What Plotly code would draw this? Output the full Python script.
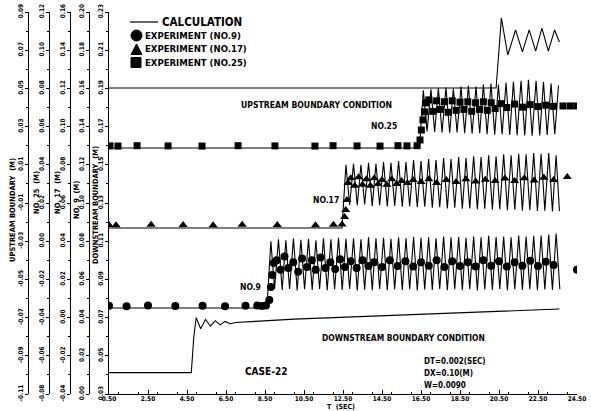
import plotly.graph_objects as go

# ---------------- data (time in s, water level in m) ----------------
# Calculation, downstream boundary condition
down_calc_t = [0.5, 4.72, 4.85, 4.97, 5.2, 5.45, 5.7, 5.95, 6.2, 6.45, 6.7, 7.0, 8.0, 10.0, 12.0, 14.0, 16.0, 18.0, 20.0, 22.0, 23.6]
down_calc_v = [0.0412, 0.0412, 0.0600, 0.0700, 0.0642, 0.0690, 0.0655, 0.0684, 0.0662, 0.0680, 0.0668, 0.0674, 0.0680, 0.0692, 0.0700, 0.0708, 0.0716, 0.0724, 0.0731, 0.0738, 0.0745]

# Calculation, upstream boundary condition
up_calc_t = [0.5, 20.35, 20.5, 20.62, 20.95, 21.35, 21.7, 22.05, 22.38, 22.7, 23.03, 23.35, 23.6]
up_calc_v = [0.0502, 0.0502, 0.0701, 0.0869, 0.0675, 0.0806, 0.0691, 0.0806, 0.0695, 0.0816, 0.0695, 0.0806, 0.0743]

# Calculation NO.9 : level before the bore, then crests and troughs
no9_calc_base_t = [0.5, 8.6]
no9_calc_base_v = [0.0450, 0.0450]
no9_calc_peak_t = [8.80, 9.19, 9.57, 9.96, 10.34, 10.73, 11.11, 11.50, 11.88, 12.27, 12.65, 13.04, 13.42,
                   13.81, 14.19, 14.58, 14.96, 15.35, 15.73, 16.12, 16.50, 16.89, 17.27, 17.66, 18.04, 18.43,
                   18.81, 19.20, 19.58, 19.97, 20.35, 20.74, 21.12, 21.51, 21.89, 22.28, 22.66, 23.05, 23.43]
no9_calc_peak_v = [0.0800, 0.0810, 0.0805, 0.0815, 0.0808, 0.0812, 0.0805, 0.0815, 0.0810, 0.0818, 0.0812, 0.0815, 0.0810,
                   0.0820, 0.0815, 0.0818, 0.0812, 0.0820, 0.0815, 0.0822, 0.0818, 0.0820, 0.0815, 0.0825, 0.0820, 0.0822,
                   0.0818, 0.0825, 0.0820, 0.0828, 0.0822, 0.0825, 0.0820, 0.0830, 0.0825, 0.0828, 0.0830, 0.0835, 0.0840]
no9_calc_trough_t = [8.99, 9.38, 9.76, 10.15, 10.53, 10.92, 11.30, 11.69, 12.07, 12.46, 12.84, 13.23, 13.61,
                     14.00, 14.38, 14.77, 15.15, 15.54, 15.92, 16.31, 16.69, 17.08, 17.46, 17.85, 18.23, 18.62,
                     19.00, 19.39, 19.77, 20.16, 20.54, 20.93, 21.31, 21.70, 22.08, 22.47, 22.85, 23.24, 23.62]
no9_calc_trough_v = [0.0550, 0.0545, 0.0550, 0.0542, 0.0548, 0.0545, 0.0550, 0.0543, 0.0548, 0.0545, 0.0550, 0.0542, 0.0546,
                     0.0544, 0.0550, 0.0543, 0.0548, 0.0545, 0.0549, 0.0542, 0.0547, 0.0545, 0.0550, 0.0543, 0.0548, 0.0544,
                     0.0549, 0.0542, 0.0547, 0.0545, 0.0550, 0.0543, 0.0548, 0.0545, 0.0549, 0.0543, 0.0547, 0.0545, 0.0550]

# Calculation NO.17
no17_calc_base_t = [0.5, 12.45]
no17_calc_base_v = [0.0469, 0.0469]
no17_calc_peak_t = [12.65, 13.04, 13.42, 13.81, 14.19, 14.58, 14.96, 15.35, 15.73, 16.12, 16.50, 16.89, 17.27, 17.66,
                    18.04, 18.43, 18.81, 19.20, 19.58, 19.97, 20.35, 20.74, 21.12, 21.51, 21.89, 22.28, 22.66, 23.05, 23.43]
no17_calc_peak_v = [0.0800, 0.0805, 0.0800, 0.0810, 0.0805, 0.0815, 0.0810, 0.0820, 0.0815, 0.0825, 0.0820, 0.0830, 0.0825, 0.0835,
                    0.0830, 0.0840, 0.0835, 0.0845, 0.0840, 0.0850, 0.0845, 0.0855, 0.0850, 0.0858, 0.0855, 0.0862, 0.0858, 0.0862, 0.0850]
no17_calc_trough_t = [12.84, 13.23, 13.61, 14.00, 14.38, 14.77, 15.15, 15.54, 15.92, 16.31, 16.69, 17.08, 17.46, 17.85,
                      18.23, 18.62, 19.00, 19.39, 19.77, 20.16, 20.54, 20.93, 21.31, 21.70, 22.08, 22.47, 22.85, 23.24, 23.60]
no17_calc_trough_v = [0.0590, 0.0588, 0.0592, 0.0585, 0.0588, 0.0582, 0.0585, 0.0580, 0.0582, 0.0578, 0.0580, 0.0575, 0.0578, 0.0572,
                      0.0575, 0.0570, 0.0572, 0.0568, 0.0570, 0.0565, 0.0568, 0.0562, 0.0565, 0.0560, 0.0562, 0.0558, 0.0560, 0.0556, 0.0558]

# Calculation NO.25
no25_calc_base_t = [0.5, 16.42]
no25_calc_base_v = [0.0488, 0.0488]
no25_calc_peak_t = [16.62, 17.01, 17.39, 17.78, 18.16, 18.55, 18.93, 19.32, 19.70, 20.09, 20.47, 20.86, 21.24, 21.63,
                    22.01, 22.40, 22.78, 23.17, 23.55]
no25_calc_peak_v = [0.0790, 0.0795, 0.0800, 0.0805, 0.0800, 0.0810, 0.0815, 0.0810, 0.0820, 0.0825, 0.0820, 0.0830, 0.0835, 0.0840,
                    0.0845, 0.0840, 0.0835, 0.0825, 0.0815]
no25_calc_trough_t = [16.81, 17.20, 17.58, 17.97, 18.35, 18.74, 19.12, 19.51, 19.89, 20.28, 20.66, 21.05, 21.43, 21.82,
                      22.20, 22.59, 22.97, 23.36]
no25_calc_trough_v = [0.0575, 0.0572, 0.0570, 0.0568, 0.0570, 0.0565, 0.0563, 0.0565, 0.0560, 0.0558, 0.0560, 0.0556, 0.0555, 0.0553,
                      0.0552, 0.0554, 0.0556, 0.0560]

# Experiments
no9_exp_t = [0.5, 1.4, 2.5, 3.9, 5.3, 6.45, 7.5, 8.1, 8.35, 8.55,
             8.72, 8.8, 8.87, 8.95,
             9.1, 9.3, 9.5, 9.7, 9.95, 10.2, 10.4, 10.65, 10.9, 11.1, 11.35, 11.6, 11.85, 12.1, 12.35, 12.6,
             12.9, 13.2, 13.5, 13.8, 14.1, 14.5, 14.9, 15.3, 15.7, 16.1, 16.5, 16.9, 17.3, 17.7, 18.1, 18.5,
             18.9, 19.3, 19.7, 20.1, 20.5, 20.9, 21.3, 21.7, 22.1, 22.5, 22.9, 23.3, 24.5]
no9_exp_v = [0.0462, 0.0460, 0.0463, 0.0461, 0.0462, 0.0460, 0.0462, 0.0463, 0.0461, 0.0464,
             0.0492, 0.0560, 0.0623, 0.0686,
             0.0700, 0.0650, 0.0720, 0.0660, 0.0690, 0.0640, 0.0710, 0.0665, 0.0700, 0.0650, 0.0715, 0.0660, 0.0690, 0.0655, 0.0705, 0.0665,
             0.0695, 0.0660, 0.0700, 0.0670, 0.0690, 0.0665, 0.0700, 0.0670, 0.0695, 0.0668, 0.0690, 0.0672, 0.0700, 0.0665, 0.0695, 0.0670,
             0.0690, 0.0668, 0.0700, 0.0672, 0.0695, 0.0668, 0.0690, 0.0672, 0.0698, 0.0670, 0.0692, 0.0675, 0.0650]

no17_exp_t = [0.5, 0.86, 2.66, 4.3, 5.84, 7.33, 9.13, 11.09, 12.01, 12.45,
              12.58, 12.64, 12.7, 12.76,
              12.9, 13.1, 13.3, 13.5, 13.7, 13.9, 14.1, 14.3, 14.5, 14.75, 15.0, 15.25, 15.5, 15.8, 16.1,
              16.5, 16.9, 17.3, 17.8, 18.3, 18.8, 19.3, 19.8, 20.3, 20.8, 21.3, 21.8, 22.3, 22.8, 23.3, 24.0]
no17_exp_v = [0.0485, 0.0484, 0.0486, 0.0485, 0.0484, 0.0486, 0.0485, 0.0484, 0.0486, 0.0487,
              0.0527, 0.0563, 0.0616, 0.0705,
              0.0730, 0.0690, 0.0735, 0.0695, 0.0725, 0.0690, 0.0730, 0.0700, 0.0720, 0.0695, 0.0725, 0.0700, 0.0715, 0.0705, 0.0720,
              0.0710, 0.0725, 0.0705, 0.0720, 0.0710, 0.0725, 0.0712, 0.0722, 0.0715, 0.0728, 0.0715, 0.0730, 0.0718, 0.0732, 0.0720, 0.0736]

no25_exp_t = [0.55, 0.96, 1.94, 3.53, 5.27, 7.12, 9.01, 11.06, 11.99, 13.22, 14.4, 15.32, 15.78, 16.3,
              16.45, 16.52, 16.6, 16.68, 16.78,
              16.9, 17.1, 17.3, 17.5, 17.7, 17.9, 18.1, 18.3, 18.5, 18.7, 18.9, 19.1, 19.3, 19.5, 19.7, 19.9,
              20.1, 20.3, 20.6, 20.9, 21.3, 21.7, 22.1, 22.5, 22.9, 23.3, 23.78, 24.15, 24.5]
no25_exp_v = [0.0499, 0.0498, 0.0500, 0.0499, 0.0498, 0.0500, 0.0499, 0.0498, 0.0500, 0.0499, 0.0498, 0.0500, 0.0499, 0.0500,
              0.0530, 0.0582, 0.0635, 0.0677, 0.0724,
              0.0740, 0.0680, 0.0735, 0.0690, 0.0730, 0.0675, 0.0735, 0.0685, 0.0728, 0.0690, 0.0730, 0.0680, 0.0725, 0.0690, 0.0730, 0.0685,
              0.0725, 0.0695, 0.0720, 0.0700, 0.0718, 0.0702, 0.0715, 0.0705, 0.0712, 0.0706, 0.0708, 0.0708, 0.0708]

# Axes: time ticks and the five level scales (bottom value of each 0.20 m scale)
x_tick_vals = [0.5, 2.5, 4.5, 6.5, 8.5, 10.5, 12.5, 14.5, 16.5, 18.5, 20.5, 22.5, 24.5]
scale_bottom_upstream = -0.11
scale_bottom_no25 = -0.08
scale_bottom_no17 = -0.04
scale_bottom_no9 = 0.00
scale_bottom_downstream = 0.03
scale_span = 0.20
scale_step = 0.02

# ---------------- layout helpers ----------------
W, H = 591, 411
M_L, M_R, M_T, M_B = 0, 14, 12, 17
PW = W - M_L - M_R
PH = H - M_T - M_B
FONT = "DejaVu Sans Condensed, DejaVu Sans, sans-serif"


def px_x(px):
    return px / PW


def px_y(py):
    return (H - M_B - py) / PH


def merge(*pairs):
    pts = []
    for ts, vs in pairs:
        pts.extend(zip(ts, vs))
    pts.sort(key=lambda p: p[0])
    return [p[0] for p in pts], [p[1] for p in pts]


def ticks_for(bottom):
    vals = [round(bottom + scale_step * i, 2) for i in range(11)]
    return vals, [f"{v + 0:.2f}" for v in vals]


fig = go.Figure()
line = dict(color="black", width=1.1)

fig.add_trace(go.Scatter(x=down_calc_t, y=down_calc_v, mode="lines", line=line, yaxis="y"))
fig.add_trace(go.Scatter(x=up_calc_t, y=up_calc_v, mode="lines", line=line, yaxis="y2"))
t, v = merge((no25_calc_base_t, no25_calc_base_v), (no25_calc_peak_t, no25_calc_peak_v), (no25_calc_trough_t, no25_calc_trough_v))
fig.add_trace(go.Scatter(x=t, y=v, mode="lines", line=line, yaxis="y3"))
t, v = merge((no17_calc_base_t, no17_calc_base_v), (no17_calc_peak_t, no17_calc_peak_v), (no17_calc_trough_t, no17_calc_trough_v))
fig.add_trace(go.Scatter(x=t, y=v, mode="lines", line=line, yaxis="y4"))
t, v = merge((no9_calc_base_t, no9_calc_base_v), (no9_calc_peak_t, no9_calc_peak_v), (no9_calc_trough_t, no9_calc_trough_v))
fig.add_trace(go.Scatter(x=t, y=v, mode="lines", line=line, yaxis="y5"))

fig.add_trace(go.Scatter(x=no25_exp_t, y=no25_exp_v, mode="markers", yaxis="y3",
                         marker=dict(symbol="square", size=7, color="black")))
fig.add_trace(go.Scatter(x=no17_exp_t, y=no17_exp_v, mode="markers", yaxis="y4",
                         marker=dict(symbol="triangle-up", size=8, color="black")))
fig.add_trace(go.Scatter(x=no9_exp_t, y=no9_exp_v, mode="markers", yaxis="y5",
                         marker=dict(symbol="circle", size=8, color="black")))

tickfont = dict(family=FONT, size=6.5, color="black", weight="bold")


def yaxis(bottom, position=None):
    vals, text = ticks_for(bottom)
    d = dict(range=[bottom, bottom + scale_span], tickvals=vals, ticktext=text,
             showgrid=False, zeroline=False, showline=True, linecolor="black", linewidth=1,
             ticks="outside", ticklen=3, tickcolor="black", tickangle=-90, tickfont=tickfont,
             ticklabelstandoff=-1,
             minor=dict(dtick=0.01, ticks="outside", ticklen=2, tickcolor="black"),
             automargin=False, side="left")
    if position is not None:
        d.update(anchor="free", overlaying="y", position=position)
    return d


axis_px = [28, 49, 70, 89, 109]

fig.update_layout(
    width=W, height=H,
    margin=dict(l=M_L, r=M_R, t=M_T, b=M_B, pad=0),
    paper_bgcolor="white", plot_bgcolor="white",
    showlegend=False,
    xaxis=dict(domain=[px_x(axis_px[4]), 1], range=[0.5, 24.5], tickvals=x_tick_vals,
               ticktext=[f"{v:.2f}" for v in x_tick_vals], showgrid=False, zeroline=False,
               showline=True, linecolor="black", linewidth=1, ticks="inside", ticklen=4, tickcolor="black",
               minor=dict(dtick=1, ticks="inside", ticklen=2, tickcolor="black"),
               tickfont=tickfont, automargin=False, ticklabelstandoff=-2),
    yaxis=yaxis(scale_bottom_downstream),
    yaxis2=yaxis(scale_bottom_upstream, px_x(axis_px[0])),
    yaxis3=yaxis(scale_bottom_no25, px_x(axis_px[1])),
    yaxis4=yaxis(scale_bottom_no17, px_x(axis_px[2])),
    yaxis5=yaxis(scale_bottom_no9, px_x(axis_px[3])),
)

ann = []


def text(s, x, y, size=9, xanchor="left", angle=0):
    ann.append(dict(text=s, x=px_x(x), y=px_y(y), xref="paper", yref="paper", xanchor=xanchor,
                    yanchor="middle", showarrow=False, textangle=angle, borderpad=0,
                    font=dict(family=FONT, size=size, color="black", weight="bold")))


# axis titles (rotated)
text("UPSTREAM BOUNDARY  (M)", 13, 210, 7.5, "center", -90)
text("NO. 25  (M)", 36, 193, 7.5, "center", -90)
text("NO. 17  (M)", 57, 193, 7.5, "center", -90)
text("NO. 9  (M)", 76, 200, 7.5, "center", -90)
text("DOWNSTREAM BOUNDARY  (M)", 96, 205, 7.5, "center", -90)
text("T  (SEC)", 341, 406.5, 7, "center")

# legend (key symbols drawn as shapes, labels as text)
blk = dict(color="black", width=1)
fig.add_shape(type="line", xref="paper", yref="paper", x0=px_x(130), x1=px_x(158), y0=px_y(22), y1=px_y(22),
              line=dict(color="black", width=1.2))
fig.add_shape(type="circle", xref="paper", yref="paper", x0=px_x(131), x1=px_x(142), y0=px_y(41), y1=px_y(30),
              line=blk, fillcolor="black")
fig.add_shape(type="path", xref="paper", yref="paper", line=blk, fillcolor="black",
              path=f"M {px_x(131)},{px_y(54.5)} L {px_x(142)},{px_y(54.5)} L {px_x(136.5)},{px_y(44)} Z")
fig.add_shape(type="rect", xref="paper", yref="paper", x0=px_x(131), x1=px_x(141), y0=px_y(67.5), y1=px_y(57.5),
              line=blk, fillcolor="black")
text("CALCULATION", 161, 22, 11.5)
text("EXPERIMENT (NO.9)", 144, 35.5, 9.5)
text("EXPERIMENT (NO.17)", 144, 49, 9.5)
text("EXPERIMENT (NO.25)", 144, 62.5, 9.5)

# in-plot labels
text("UPSTREAM BOUNDARY CONDITION", 240, 105, 8.6)
text("NO.25", 384, 126, 8.5, "center")
text("NO.17", 326, 200, 8.5, "center")
text("NO.9", 250, 287, 8.5, "center")
text("DOWNSTREAM BOUNDARY CONDITION", 321, 338, 8.4)
text("CASE-22", 266, 371, 10, "center")
text("DT=0.002(SEC)", 423, 361, 8)
text("DX=0.10(M)", 423, 373, 8)
text("W=0.0090", 423, 385, 8)

fig.update_layout(annotations=ann)
fig.write_html("out.html", config={"displayModeBar": False},
               post_script="document.body.style.margin='0px';")
